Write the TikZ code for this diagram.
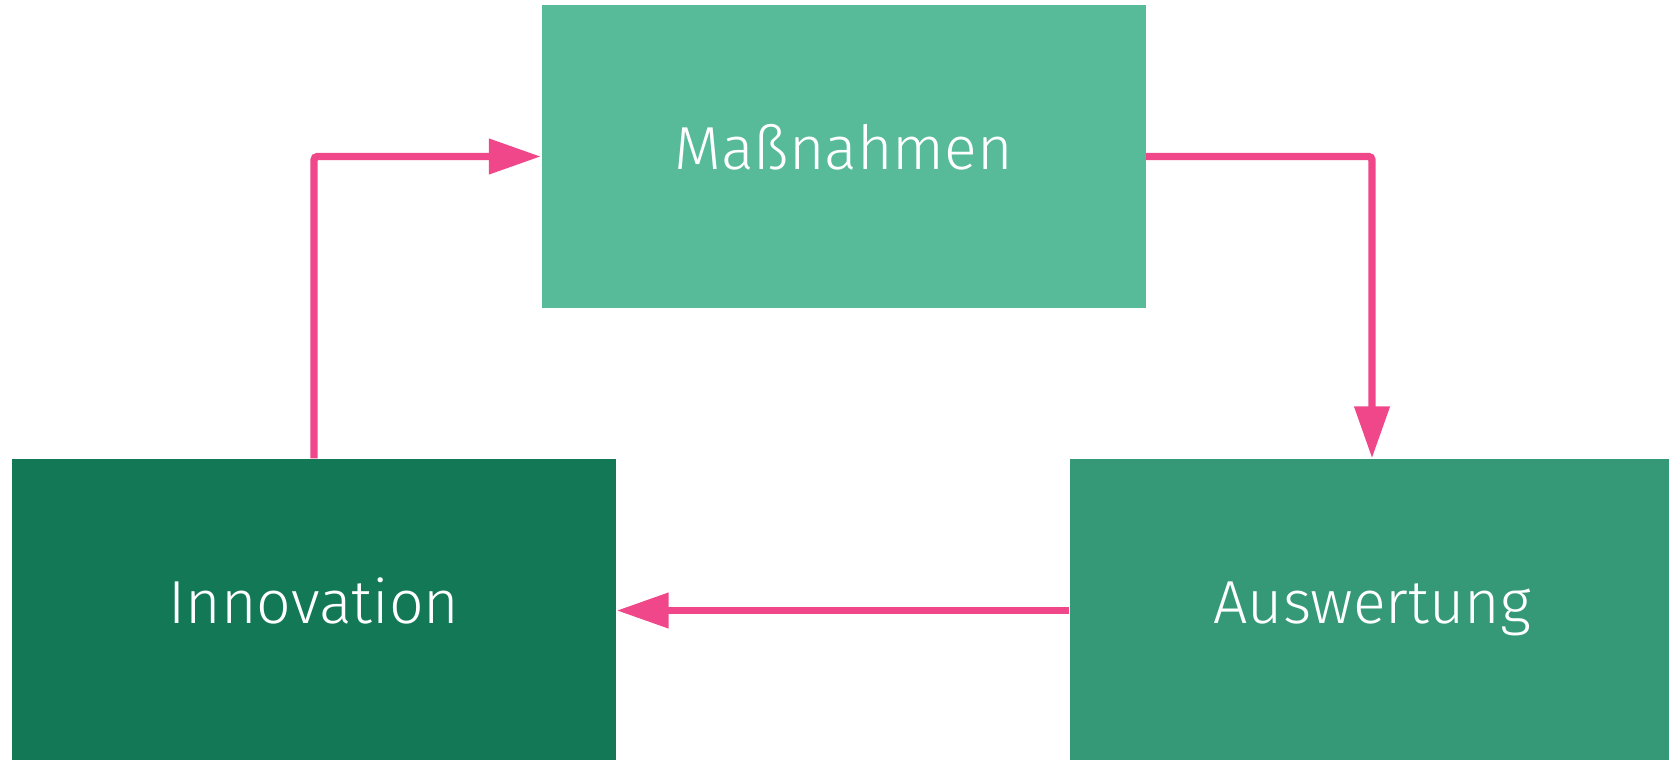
\documentclass[tikz,border=0pt]{standalone}
\usepackage{fontspec}
\setmainfont{Fira Sans Light}
\usetikzlibrary{arrows.meta}
\definecolor{massgreen}{HTML}{57BB99}
\definecolor{innovgreen}{HTML}{137856}
\definecolor{auswgreen}{HTML}{359978}
\definecolor{arrowpink}{HTML}{EF478A}
\begin{document}
\begin{tikzpicture}[
        box/.style = {minimum width=6.04cm, minimum height=3.03cm, inner sep=0pt, text=white,
            font=\fontsize{17.3}{20}\selectfont, text height=0.85em, text depth=0.1em},
        arr/.style = {draw=arrowpink, line width=2.1pt, rounded corners=1pt,
            -{Triangle[length=14.8pt, width=9.7pt]}}
    ]
        \useasboundingbox (0, 0) rectangle (16.69, -7.59);
        \node [box, fill=massgreen] (mass) at (8.435, -1.565) {Maßnahmen};
        \node [box, fill=innovgreen] (innov) at (3.14, -6.105) {Innovation};
        \node [box, fill=auswgreen] (ausw) at (13.72, -6.105) {Auswertung};
        \draw [arr] (innov.north) |- (mass.west);
        \draw [arr] (mass.east) -| (ausw.north);
        \draw [arr] (ausw.west) -- (innov.east);
    \end{tikzpicture}
\end{document}
